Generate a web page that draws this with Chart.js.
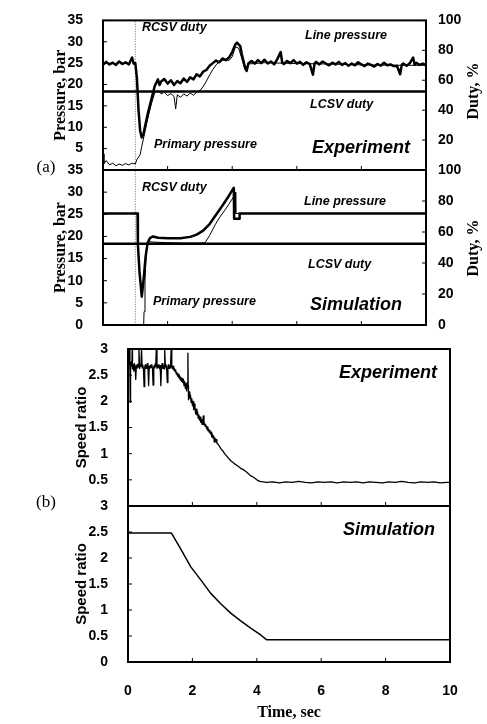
<!DOCTYPE html>
<html><head><meta charset="utf-8">
<script src="https://cdn.jsdelivr.net/npm/chart.js@4.4.1/dist/chart.umd.min.js"></script>
<style>
html,body{margin:0;padding:0;background:#fff;width:487px;height:724px;overflow:hidden}
canvas{position:absolute;left:0;top:0}
</style></head>
<body>
<canvas id="c1" width="487" height="724"></canvas>
<canvas id="c2" width="487" height="724"></canvas>
<canvas id="c3" width="487" height="724"></canvas>
<canvas id="c4" width="487" height="724"></canvas>
<script>
// ---------- DATA ----------
const timeTicks = [0, 2, 4, 6, 8, 10];
const pressTicksTop = [5, 10, 15, 20, 25, 30, 35];
const pressTicksBot = [0, 5, 10, 15, 20, 25, 30, 35];
const dutyTicksTop = [20, 40, 60, 80, 100];
const dutyTicksBot = [0, 20, 40, 60, 80, 100];
const speedTicksTop = [0.5, 1, 1.5, 2, 2.5, 3];
const speedTicksBot = [0, 0.5, 1, 1.5, 2, 2.5, 3];

const rcsvT = [0, 1.0, 1.0, 10];
const rcsvDuty = [0, 0, 100, 100];
const lcsvT = [0, 10];
const lcsvDuty = [52.5, 52.5];

const expLineT = [0.0,0.1,0.2,0.3,0.4,0.5,0.6,0.7,0.8,0.9,0.95,1.0,1.05,1.1,1.15,1.2,1.25,1.3,1.4,1.5,1.6,1.7,1.75,1.8,1.9,2.0,2.1,2.2,2.3,2.4,2.5,2.6,2.7,2.8,2.9,3.0,3.1,3.2,3.3,3.4,3.5,3.6,3.7,3.8,3.9,4.0,4.1,4.15,4.25,4.3,4.4,4.45,4.5,4.6,4.7,4.8,4.9,5.0,5.1,5.2,5.3,5.4,5.5,5.55,5.6,5.7,5.8,5.9,6.0,6.1,6.2,6.3,6.4,6.5,6.55,6.6,6.7,6.8,6.9,7.0,7.1,7.2,7.3,7.4,7.5,7.6,7.7,7.8,7.9,8.0,8.1,8.2,8.3,8.4,8.5,8.6,8.7,8.8,8.9,9.0,9.1,9.2,9.25,9.3,9.4,9.5,9.6,9.65,9.7,9.8,9.9,10.0];
const expLineP = [24.6,25.3,24.7,25.1,24.6,25.4,24.8,25.2,24.7,26.3,24.9,25.0,21.5,14.0,9.2,7.6,8.3,10.2,13.6,16.6,19.6,21.2,19.9,20.7,21.3,20.2,21.0,19.9,20.8,20.3,21.4,20.6,21.7,21.2,22.4,21.9,23.0,23.4,24.4,25.0,25.6,25.2,26.1,25.7,26.3,27.6,29.4,29.8,29.0,27.0,23.9,23.2,24.9,25.5,24.9,25.7,25.0,25.8,24.9,25.4,24.7,26.0,27.6,25.1,24.8,25.5,25.0,25.7,24.9,25.3,24.6,25.2,24.8,22.3,24.9,25.3,24.7,25.4,24.9,24.5,25.1,24.7,25.3,24.6,25.0,24.4,24.9,24.5,25.2,24.7,24.3,24.9,24.6,24.2,24.8,24.4,25.1,24.5,24.7,24.3,24.4,22.4,24.6,24.9,24.4,25.0,26.3,24.6,25.1,24.6,24.9,24.5];

const expPrimT = [0.0,0.03,0.1,0.2,0.3,0.4,0.5,0.6,0.7,0.8,0.9,1.0,1.05,1.1,1.15,1.2,1.3,1.4,1.5,1.6,1.7,1.8,1.9,2.0,2.1,2.2,2.25,2.3,2.4,2.5,2.6,2.7,2.8,2.9,3.0,3.1,3.2,3.3,3.4,3.5,3.6,3.7,3.8,3.9,4.0,4.1,4.2,4.3,4.4,4.5,5.0,6.0,7.0,8.0,9.0,10.0];
const expPrimP = [3.8,1.5,2.2,1.2,1.6,1.0,1.4,1.1,1.5,1.2,1.6,1.4,2.5,3.0,3.6,5.5,9.0,12.5,15.5,18.0,18.6,17.8,18.2,17.4,17.9,17.2,14.3,17.6,17.0,17.8,17.3,18.0,17.5,18.2,18.6,19.5,20.8,22.2,23.5,24.6,25.3,25.6,25.9,25.6,26.5,28.8,28.5,26.0,23.5,24.8,25.1,24.9,24.8,24.6,24.5,24.5];

const simLineT = [0, 1.07, 1.08, 1.13, 1.2, 1.26, 1.32, 1.38, 1.45, 1.55, 1.7, 2.0, 2.4, 2.7, 2.9, 3.1, 3.3, 3.5, 3.7, 3.9, 4.05, 4.06, 4.22, 4.23, 10];
const simLineP = [25.2, 25.2, 18.3, 12.0, 6.4, 10.5, 15.5, 18.5, 19.6, 20.0, 19.7, 19.6, 19.6, 19.9, 20.4, 21.3, 22.8, 24.9, 27.0, 29.2, 31.0, 24.0, 24.0, 25.2, 25.2];

const simPrimT = [0, 1.26, 1.27, 1.3, 1.34, 1.38, 1.45, 1.6, 2.0, 2.5, 3.0, 3.16, 3.3, 3.47, 3.6, 3.78, 3.9, 4.03, 4.1, 4.11, 10];
const simPrimP = [0, 0, 3.0, 10.0, 16.5, 18.4, 18.8, 18.7, 18.6, 18.5, 18.5, 18.6, 20.2, 22.6, 24.2, 26.0, 27.3, 28.8, 30.0, 25.2, 25.2];

const expSpeedT = [0.03,0.05,0.06,0.07,0.08,0.10,0.12,0.13,0.14,0.16,0.18,0.20,0.22,0.24,0.26,0.28,0.30,0.32,0.34,0.36,0.38,0.40,0.42,0.44,0.46,0.48,0.50,0.52,0.54,0.56,0.58,0.60,0.62,0.64,0.66,0.68,0.70,0.72,0.74,0.76,0.78,0.80,0.82,0.84,0.86,0.88,0.90,0.92,0.94,0.96,0.98,1.00,1.02,1.04,1.06,1.08,1.10,1.12,1.14,1.16,1.18,1.20,1.22,1.24,1.26,1.28,1.30,1.32,1.34,1.36,1.38,1.40,1.42,1.44,1.46,1.48,1.50,1.52,1.54,1.56,1.58,1.60,1.62,1.64,1.66,1.68,1.70,1.72,1.74,1.76,1.78,1.80,1.82,1.84,1.86,1.87,1.88,1.90,1.92,1.94,1.96,1.98,2.00,2.02,2.04,2.06,2.08,2.10,2.12,2.14,2.16,2.18,2.20,2.22,2.24,2.26,2.28,2.30,2.32,2.34,2.36,2.38,2.40,2.42,2.44,2.46,2.48,2.50,2.52,2.54,2.56,2.58,2.60,2.62,2.64,2.66,2.68,2.70,2.72,2.74,2.76,2.80,2.85,2.90,2.95,3.0,3.1,3.2,3.3,3.4,3.5,3.6,3.7,3.8,3.9,4.0,4.1,4.2,4.3,4.5,4.7,4.9,5.1,5.3,5.5,5.7,5.9,6.1,6.3,6.5,6.7,6.9,7.1,7.3,7.5,7.7,7.9,8.1,8.3,8.5,8.7,8.9,9.1,9.3,9.5,9.7,9.9,10];
const expSpeedV = [2.70,3.00,2.55,1.98,2.62,2.75,2.68,3.00,2.62,2.70,2.58,2.72,2.66,2.42,2.69,2.64,2.71,2.66,3.00,2.63,2.70,2.67,3.00,2.64,2.69,2.62,2.28,2.66,2.70,2.63,2.68,2.72,2.64,2.30,2.67,2.63,2.69,2.65,2.70,2.62,2.31,2.67,2.64,2.71,2.66,3.00,2.63,2.69,2.65,2.70,2.62,2.68,2.30,2.66,2.72,2.63,2.69,2.62,3.00,2.66,2.70,2.63,2.36,2.67,2.70,2.63,2.68,2.64,3.00,2.66,2.62,2.67,2.60,2.63,2.57,2.60,2.52,2.55,2.48,2.52,2.45,2.49,2.41,2.46,2.38,2.44,2.36,2.42,2.30,2.38,2.25,2.34,2.20,2.36,2.92,2.30,2.03,2.18,2.06,2.12,1.98,2.05,1.92,2.00,1.84,1.95,1.88,1.76,1.85,1.74,1.80,1.68,1.74,1.64,1.70,1.60,1.66,1.56,1.62,1.72,1.55,1.58,1.52,1.55,1.48,1.51,1.44,1.47,1.41,1.45,1.38,1.41,1.32,1.37,1.30,1.34,1.22,1.30,1.24,1.27,1.20,1.18,1.13,1.08,1.05,1.00,0.93,0.86,0.81,0.77,0.72,0.69,0.64,0.58,0.55,0.50,0.47,0.46,0.45,0.46,0.44,0.46,0.45,0.47,0.45,0.44,0.46,0.45,0.46,0.44,0.46,0.45,0.46,0.44,0.46,0.45,0.44,0.46,0.45,0.47,0.45,0.44,0.46,0.45,0.46,0.44,0.45,0.45];

const simSpeedT = [0, 1.35, 1.64, 1.95, 2.26, 2.57, 2.88, 3.19, 3.5, 3.81, 4.12, 4.3, 10];
const simSpeedV = [2.48, 2.48, 2.17, 1.83, 1.58, 1.32, 1.12, 0.94, 0.79, 0.65, 0.52, 0.43, 0.43];

// ---------- HELPERS ----------
const SANS = '"Liberation Sans", Arial, sans-serif';
const SERIF = '"Liberation Serif", "Times New Roman", serif';
const pts = (T, V) => T.map((t, i) => ({x: t, y: V[i]}));
const setTicks = arr => s => { s.ticks = arr.map(v => ({value: v})); };
const tickFont = {family: SANS, weight: 'bold', size: 14};

const notesPlugin = {
  id: 'notes',
  afterDraw(chart, args, opts) {
    const {ctx, chartArea: a} = chart;
    ctx.save();
    ctx.strokeStyle = '#000';
    ctx.lineWidth = 2;
    ctx.strokeRect(a.left, a.top, a.right - a.left, a.bottom - a.top);
    ctx.lineWidth = 1;
    ctx.beginPath();
    Object.values(chart.scales).forEach(s => {
      s.ticks.forEach(t => {
        const p = s.getPixelForValue(t.value);
        if (s.axis === 'x') { ctx.moveTo(p, a.bottom); ctx.lineTo(p, a.bottom - 4); }
        else if (s.position === 'left') { ctx.moveTo(a.left, p); ctx.lineTo(a.left + 4, p); }
        else { ctx.moveTo(a.right, p); ctx.lineTo(a.right - 4, p); }
      });
    });
    ctx.stroke();
    ctx.fillStyle = '#000';
    ctx.textBaseline = 'middle';
    (opts.items || []).forEach(it => {
      ctx.save();
      ctx.font = it.font;
      ctx.textAlign = it.align || 'left';
      ctx.translate(it.x, it.y);
      if (it.rot) ctx.rotate(it.rot);
      ctx.fillText(it.text, 0, 0);
      ctx.restore();
    });
    ctx.restore();
  }
};

const small = 'italic bold 12.5px ' + SANS;
const big = 'italic bold 18px ' + SANS;
const titleSerif = 'bold 16px ' + SERIF;

function lineDs(T, V, axis, width, extra) {
  return Object.assign({
    data: pts(T, V), yAxisID: axis, borderColor: '#000', borderWidth: width,
    pointRadius: 0, tension: 0, fill: false, borderJoinStyle: 'round', borderCapStyle: 'butt'
  }, extra || {});
}

function yAxis(pos, min, max, ticks, width, padding, title) {
  const o = {
    type: 'linear', position: pos, min: min, max: max,
    afterBuildTicks: setTicks(ticks),
    afterFit: s => { s.width = width; },
    grid: {display: false}, border: {display: false},
    ticks: {font: tickFont, color: '#000', padding: padding, callback: v => String(v)},
    title: {display: false}
  };
  if (title) o.title = {display: true, text: title.text, font: title.font, color: '#000', padding: 0};
  return o;
}

function xAxis(show) {
  const o = {
    type: 'linear', min: 0, max: 10, display: show,
    afterBuildTicks: setTicks(timeTicks),
    grid: {display: false}, border: {display: false},
    ticks: {font: tickFont, color: '#000', padding: 13, callback: v => String(v)}
  };
  if (show) {
    o.afterFit = s => { s.height = 60; };
    o.title = {display: true, text: 'Time, sec', font: {family: SERIF, weight: 'bold', size: 16}, color: '#000', padding: 0};
  }
  return o;
}

function make(id, datasets, scales, padding, items) {
  return new Chart(document.getElementById(id), {
    type: 'line',
    data: {datasets: datasets},
    options: {
      responsive: false, animation: false, events: [],
      layout: {padding: padding},
      plugins: {legend: {display: false}, tooltip: {enabled: false}, notes: {items: items}},
      scales: scales
    },
    plugins: [notesPlugin]
  });
}

const pTitle = {text: 'Pressure, bar', font: {family: SERIF, weight: 'bold', size: 16}};
const sTitle = {text: 'Speed ratio', font: {family: SANS, weight: 'bold', size: 15}};

// Panel (a) Experiment
make('c1', [
  lineDs(lcsvT, lcsvDuty, 'yR', 2.5),
  lineDs(expLineT, expLineP, 'y', 2.5),
  lineDs(expPrimT, expPrimP, 'y', 1),
  lineDs(rcsvT, rcsvDuty, 'yR', 1, {borderColor: '#666', borderDash: [1, 1.5]})
], {
  x: xAxis(false),
  y: yAxis('left', 0, 35, pressTicksTop, 52, 12, pTitle),
  yR: yAxis('right', 0, 100, dutyTicksTop, 40, 4)
}, {left: 51, right: 21, top: 12, bottom: 554}, [
  {text: 'RCSV duty', x: 142, y: 28, font: small},
  {text: 'Line pressure', x: 305, y: 36, font: small},
  {text: 'LCSV duty', x: 310, y: 105, font: small},
  {text: 'Primary pressure', x: 154, y: 145, font: small},
  {text: 'Experiment', x: 312, y: 148, font: big},
  {text: 'Duty, %', x: 474, y: 91, font: titleSerif, align: 'center', rot: -Math.PI / 2},
  {text: '(a)', x: 46, y: 168, font: '17px ' + SERIF, align: 'center'}
]);

// Panel (a) Simulation
make('c2', [
  lineDs(lcsvT, lcsvDuty, 'yR', 2.5),
  lineDs(simLineT, simLineP, 'y', 2.5),
  lineDs(simPrimT, simPrimP, 'y', 1),
  lineDs(rcsvT, rcsvDuty, 'yR', 1, {borderColor: '#666', borderDash: [1, 1.5]})
], {
  x: xAxis(false),
  y: yAxis('left', 0, 35, pressTicksBot, 52, 12, pTitle),
  yR: yAxis('right', 0, 100, dutyTicksBot, 40, 4)
}, {left: 51, right: 21, top: 170, bottom: 399}, [
  {text: 'RCSV duty', x: 142, y: 188, font: small},
  {text: 'Line pressure', x: 304, y: 202, font: small},
  {text: 'LCSV duty', x: 308, y: 265, font: small},
  {text: 'Primary pressure', x: 153, y: 302, font: small},
  {text: 'Simulation', x: 310, y: 305, font: big},
  {text: 'Duty, %', x: 474, y: 248, font: titleSerif, align: 'center', rot: -Math.PI / 2}
]);

// Panel (b) Experiment
make('c3', [
  lineDs(expSpeedT, expSpeedV, 'y', 1.3)
], {
  x: xAxis(false),
  y: yAxis('left', 0, 3, speedTicksTop, 55, 12, sTitle)
}, {left: 73, right: 37, top: 349, bottom: 218}, [
  {text: 'Experiment', x: 437, y: 373, font: big, align: 'right'},
  {text: '(b)', x: 46, y: 503, font: '17px ' + SERIF, align: 'center'}
]);

// Panel (b) Simulation
make('c4', [
  lineDs(simSpeedT, simSpeedV, 'y', 1.5)
], {
  x: xAxis(true),
  y: yAxis('left', 0, 3, speedTicksBot, 55, 12, sTitle)
}, {left: 73, right: 37, top: 506, bottom: 2}, [
  {text: 'Simulation', x: 435, y: 530, font: big, align: 'right'}
]);
</script>
</body></html>
